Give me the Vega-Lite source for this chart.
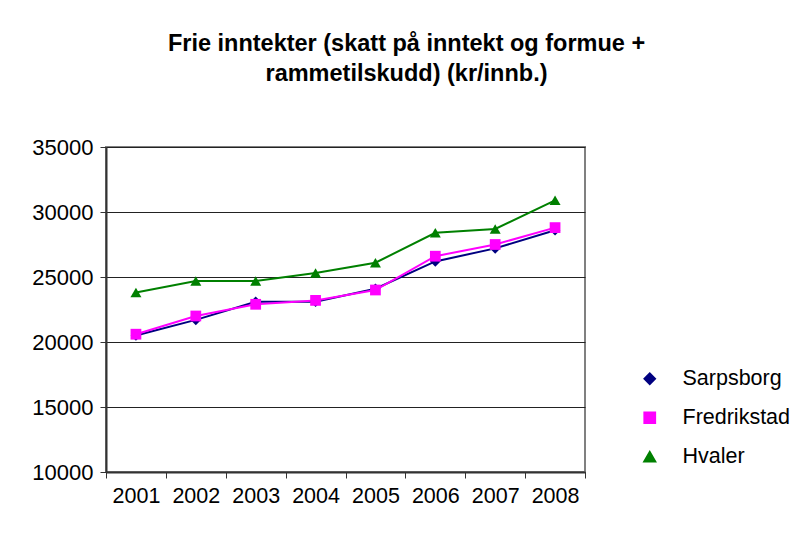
{
  "$schema": "https://vega.github.io/schema/vega-lite/v6.json",
  "width": 479,
  "height": 325,
  "autosize": {"type": "none"},
  "padding": {"left": 106, "top": 147, "right": 207, "bottom": 67},
  "background": "white",
  "title": {
    "text": ["Frie inntekter (skatt på inntekt og formue +", "rammetilskudd) (kr/innb.)"],
    "font": "Liberation Sans",
    "fontSize": 23.5,
    "fontWeight": "bold",
    "color": "black",
    "lineHeight": 30,
    "anchor": "middle",
    "frame": "group",
    "dx": 61,
    "offset": 51
  },
  "config": {
    "view": {"stroke": "#808080", "strokeWidth": 2},
    "font": "Liberation Sans"
  },
  "data": {
    "values": [
      {"year": "2001", "series": "Sarpsborg", "value": 20500},
      {"year": "2002", "series": "Sarpsborg", "value": 21700},
      {"year": "2003", "series": "Sarpsborg", "value": 23100},
      {"year": "2004", "series": "Sarpsborg", "value": 23100},
      {"year": "2005", "series": "Sarpsborg", "value": 24100},
      {"year": "2006", "series": "Sarpsborg", "value": 26200},
      {"year": "2007", "series": "Sarpsborg", "value": 27200},
      {"year": "2008", "series": "Sarpsborg", "value": 28600},
      {"year": "2001", "series": "Fredrikstad", "value": 20600},
      {"year": "2002", "series": "Fredrikstad", "value": 22000},
      {"year": "2003", "series": "Fredrikstad", "value": 22900},
      {"year": "2004", "series": "Fredrikstad", "value": 23200},
      {"year": "2005", "series": "Fredrikstad", "value": 24000},
      {"year": "2006", "series": "Fredrikstad", "value": 26600},
      {"year": "2007", "series": "Fredrikstad", "value": 27500},
      {"year": "2008", "series": "Fredrikstad", "value": 28800},
      {"year": "2001", "series": "Hvaler", "value": 23800},
      {"year": "2002", "series": "Hvaler", "value": 24700},
      {"year": "2003", "series": "Hvaler", "value": 24700},
      {"year": "2004", "series": "Hvaler", "value": 25300},
      {"year": "2005", "series": "Hvaler", "value": 26100},
      {"year": "2006", "series": "Hvaler", "value": 28400},
      {"year": "2007", "series": "Hvaler", "value": 28700},
      {"year": "2008", "series": "Hvaler", "value": 30900}
    ]
  },
  "encoding": {
    "x": {
      "field": "year",
      "type": "ordinal",
      "bandPosition": 0.5,
      "scale": {"type": "band", "paddingInner": 0, "paddingOuter": 0},
      "axis": {
        "title": null,
        "labelAngle": 0,
        "labelFont": "Liberation Sans",
        "labelFontSize": 21.5,
        "labelColor": "black",
        "labelPadding": 7,
        "tickBand": "extent",
        "tickSize": 6,
        "tickColor": "#333333",
        "domainColor": "#333333",
        "domainWidth": 2,
        "grid": false
      }
    },
    "y": {
      "field": "value",
      "type": "quantitative",
      "scale": {"domain": [10000, 35000], "nice": false, "zero": false},
      "axis": {
        "title": null,
        "values": [10000, 15000, 20000, 25000, 30000, 35000],
        "format": "d",
        "labelFont": "Liberation Sans",
        "labelFontSize": 22,
        "labelColor": "black",
        "labelPadding": 7,
        "tickSize": 6,
        "tickColor": "#333333",
        "domainColor": "#333333",
        "domainWidth": 2,
        "grid": true,
        "gridColor": "#222222",
        "gridWidth": 1
      }
    },
    "color": {
      "field": "series",
      "type": "nominal",
      "sort": ["Sarpsborg", "Fredrikstad", "Hvaler"],
      "scale": {"domain": ["Sarpsborg", "Fredrikstad", "Hvaler"], "range": ["#000080", "#FF00FF", "#008000"]},
      "legend": {
        "title": null,
        "orient": "none",
        "legendX": 533,
        "legendY": 221,
        "padding": 0,
        "symbolSize": 144,
        "symbolStrokeWidth": 2,
        "labelOffset": 22,
        "labelFont": "Liberation Sans",
        "labelFontSize": 21.5,
        "labelColor": "black",
        "rowPadding": 16
      }
    }
  },
  "layer": [
    {
      "mark": {"type": "line", "strokeWidth": 2}
    },
    {
      "mark": {"type": "point", "filled": true, "opacity": 1},
      "encoding": {
        "shape": {
          "field": "series",
          "type": "nominal",
          "scale": {"domain": ["Sarpsborg", "Fredrikstad", "Hvaler"], "range": ["diamond", "square", "triangle-up"]},
          "legend": null
        },
        "size": {
          "field": "series",
          "type": "nominal",
          "scale": {"domain": ["Sarpsborg", "Fredrikstad", "Hvaler"], "range": [110, 121, 190]},
          "legend": null
        }
      }
    }
  ]
}
